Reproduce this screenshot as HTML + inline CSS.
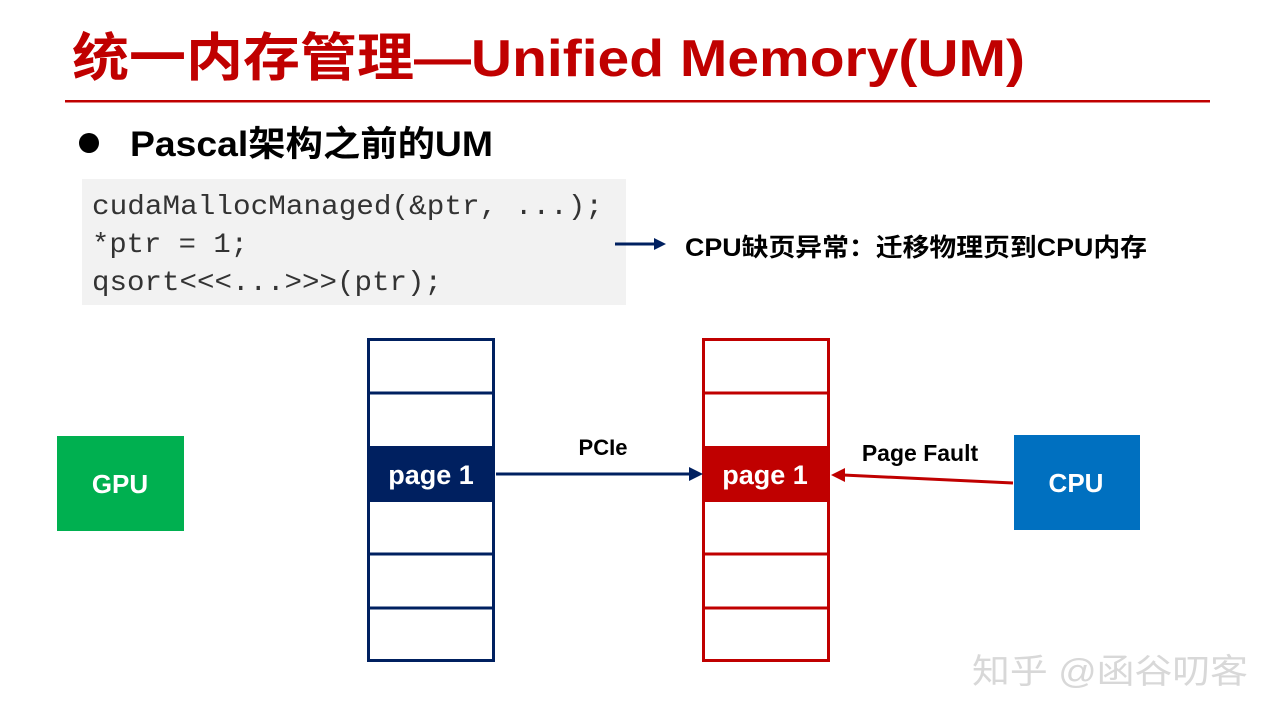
<!DOCTYPE html>
<html><head><meta charset="utf-8"><style>
body{margin:0;width:1280px;height:720px;background:#fff;overflow:hidden;font-family:"Liberation Sans","Noto Sans CJK SC",sans-serif}
</style></head><body>
<svg width="1280" height="720" xmlns="http://www.w3.org/2000/svg" style="position:absolute;left:0;top:0">
<text x="72" y="76" font-size="52" font-weight="bold" fill="#c00000" font-family="Liberation Sans,Noto Sans CJK SC,sans-serif" textLength="953" lengthAdjust="spacingAndGlyphs">统一内存管理—Unified Memory(UM)</text>
<rect x="65" y="100" width="1145" height="2.5" fill="#c00000"/>
<circle cx="89" cy="143" r="10" fill="#000"/>
<text x="130" y="156" font-size="35" font-weight="bold" fill="#000" font-family="Liberation Sans,Noto Sans CJK SC,sans-serif" textLength="363" lengthAdjust="spacingAndGlyphs">Pascal架构之前的UM</text>
<rect x="82" y="179" width="544" height="126" fill="#f2f2f2"/>
<g font-family="Liberation Mono,monospace" font-size="28" fill="#333" lengthAdjust="spacingAndGlyphs">
<text x="92" y="214" textLength="511" lengthAdjust="spacingAndGlyphs">cudaMallocManaged(&amp;ptr, ...);</text>
<text x="92" y="252" textLength="156" lengthAdjust="spacingAndGlyphs">*ptr = 1;</text>
<text x="92" y="290" textLength="350" lengthAdjust="spacingAndGlyphs">qsort&lt;&lt;&lt;...&gt;&gt;&gt;(ptr);</text>
</g>
<line x1="615" y1="244" x2="656" y2="244" stroke="#002060" stroke-width="3"/>
<polygon points="666,244 654,238 654,250" fill="#002060"/>
<text x="685" y="256" font-size="25" font-weight="bold" fill="#000" font-family="Liberation Sans,Noto Sans CJK SC,sans-serif" textLength="462" lengthAdjust="spacingAndGlyphs">CPU缺页异常：迁移物理页到CPU内存</text>
<rect x="57" y="436" width="127" height="95" fill="#00b050"/>
<text x="120" y="493" font-size="26" font-weight="bold" fill="#fff" text-anchor="middle">GPU</text>
<rect x="1014" y="435" width="126" height="95" fill="#0070c0"/>
<text x="1076" y="492" font-size="26" font-weight="bold" fill="#fff" text-anchor="middle">CPU</text>
<g fill="none" stroke="#002060" stroke-width="3">
<rect x="368.5" y="339.5" width="125" height="321"/>
<line x1="368" y1="393" x2="494" y2="393"/><line x1="368" y1="554" x2="494" y2="554"/><line x1="368" y1="608" x2="494" y2="608"/>
</g>
<rect x="367" y="446" width="128" height="56" fill="#002060"/>
<text x="431" y="484" font-size="27" font-weight="bold" fill="#fff" text-anchor="middle">page 1</text>
<g fill="none" stroke="#c00000" stroke-width="3">
<rect x="703.5" y="339.5" width="125" height="321"/>
<line x1="703" y1="393" x2="829" y2="393"/><line x1="703" y1="554" x2="829" y2="554"/><line x1="703" y1="608" x2="829" y2="608"/>
</g>
<rect x="702" y="446" width="128" height="56" fill="#c00000"/>
<text x="765" y="484" font-size="27" font-weight="bold" fill="#fff" text-anchor="middle">page 1</text>
<line x1="496" y1="474" x2="692" y2="474" stroke="#002060" stroke-width="3"/>
<polygon points="703,474 689,467 689,481" fill="#002060"/>
<text x="603" y="455" font-size="22" font-weight="bold" fill="#000" text-anchor="middle">PCIe</text>
<line x1="1013" y1="483" x2="843" y2="475" stroke="#c00000" stroke-width="3"/>
<polygon points="831,475 845,468 845,482" fill="#c00000"/>
<text x="920" y="461" font-size="23" font-weight="bold" fill="#000" text-anchor="middle">Page Fault</text>
<text x="972" y="683" font-size="34" fill="#d8d8d8" font-family="Liberation Sans,Noto Sans CJK SC,sans-serif" textLength="276" lengthAdjust="spacingAndGlyphs">知乎 @函谷叨客</text>
</svg>
</body></html>
